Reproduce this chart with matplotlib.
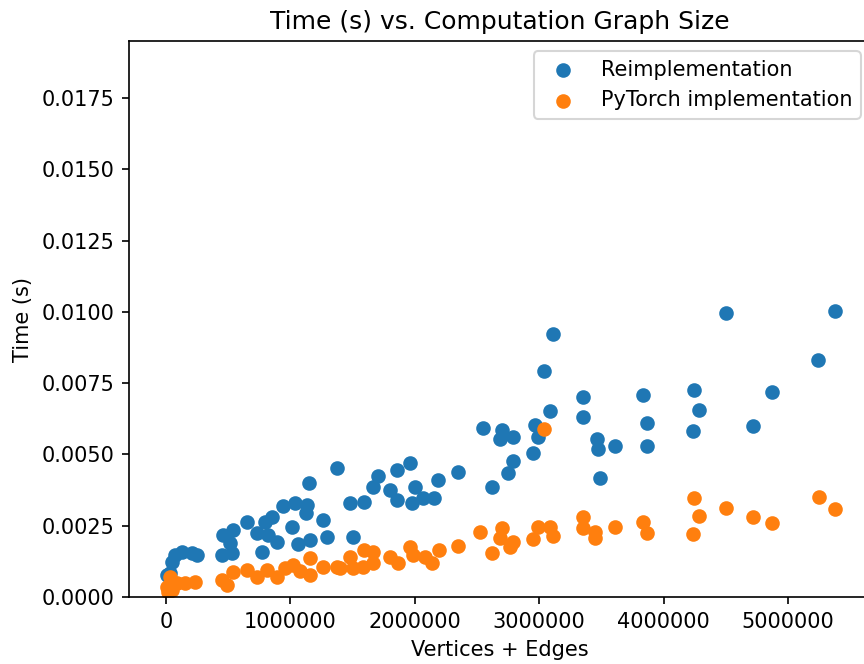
"""
Tempo (s) vs. tamanho do grafo de computação: reimplementação x PyTorch.
Valores lidos da figura de referência.
"""

import matplotlib
matplotlib.use("Agg")
import matplotlib.pyplot as plt

# reimplementação (azul)
reimpl_x = [
    0.008e6, 0.032e6, 0.048e6, 0.072e6, 0.129e6, 0.209e6, 0.249e6,
    0.450e6, 0.458e6, 0.514e6, 0.531e6, 0.539e6, 0.651e6, 0.732e6, 0.772e6,
    0.796e6, 0.820e6, 0.852e6, 0.892e6, 0.941e6, 1.013e6, 1.037e6, 1.061e6,
    1.125e6, 1.133e6, 1.150e6, 1.158e6, 1.262e6, 1.294e6, 1.375e6, 1.479e6,
    1.503e6, 1.592e6, 1.664e6, 1.704e6, 1.801e6, 1.857e6, 1.857e6, 1.961e6,
    1.977e6, 2.002e6, 2.066e6, 2.154e6, 2.186e6, 2.347e6, 2.548e6, 2.621e6,
    2.685e6, 2.701e6, 2.749e6, 2.789e6, 2.789e6, 2.950e6, 2.966e6, 2.990e6,
    3.039e6, 3.087e6, 3.111e6, 3.352e6, 3.352e6, 3.465e6, 3.473e6, 3.489e6,
    3.609e6, 3.834e6, 3.867e6, 3.867e6, 4.236e6, 4.244e6, 4.285e6, 4.502e6,
    4.719e6, 4.871e6, 5.241e6, 5.378e6,
]
reimpl_t = [
    0.00077, 0.00084, 0.00123, 0.00147, 0.00158, 0.00154, 0.00147,
    0.00147, 0.00217, 0.00189, 0.00154, 0.00235, 0.00263, 0.00224, 0.00158,
    0.00263, 0.00217, 0.00280, 0.00193, 0.00319, 0.00245, 0.00330, 0.00186,
    0.00295, 0.00323, 0.00400, 0.00200, 0.00270, 0.00210, 0.00452, 0.00330,
    0.00210, 0.00333, 0.00386, 0.00424, 0.00375, 0.00340, 0.00445, 0.00470,
    0.00330, 0.00386, 0.00347, 0.00347, 0.00410, 0.00438, 0.00593, 0.00386,
    0.00554, 0.00585, 0.00435, 0.00561, 0.00477, 0.00505, 0.00603, 0.00561,
    0.00792, 0.00652, 0.00922, 0.00701, 0.00631, 0.00554, 0.00519, 0.00417,
    0.00529, 0.00708, 0.00610, 0.00529, 0.00582, 0.00726, 0.00656, 0.00996,
    0.00600, 0.00719, 0.00831, 0.01003,
]

# implementação PyTorch (laranja)
torch_x = [
    0.008e6, 0.016e6, 0.032e6, 0.048e6, 0.088e6, 0.153e6, 0.233e6,
    0.450e6, 0.490e6, 0.539e6, 0.651e6, 0.732e6, 0.812e6, 0.892e6, 0.957e6,
    1.021e6, 1.077e6, 1.158e6, 1.158e6, 1.262e6, 1.375e6, 1.399e6, 1.479e6,
    1.503e6, 1.584e6, 1.592e6, 1.664e6, 1.664e6, 1.801e6, 1.865e6, 1.961e6,
    1.986e6, 2.082e6, 2.138e6, 2.195e6, 2.347e6, 2.524e6, 2.621e6, 2.685e6,
    2.701e6, 2.765e6, 2.789e6, 2.950e6, 2.990e6, 3.039e6, 3.087e6, 3.111e6,
    3.352e6, 3.352e6, 3.449e6, 3.449e6, 3.609e6, 3.834e6, 3.867e6, 4.236e6,
    4.244e6, 4.285e6, 4.502e6, 4.719e6, 4.871e6, 5.249e6, 5.378e6,
]
torch_t = [
    0.00035, 0.00018, 0.00070, 0.00025, 0.00049, 0.00049, 0.00053,
    0.00060, 0.00042, 0.00088, 0.00095, 0.00070, 0.00095, 0.00070, 0.00102,
    0.00112, 0.00091, 0.00137, 0.00077, 0.00105, 0.00105, 0.00102, 0.00140,
    0.00102, 0.00105, 0.00165, 0.00158, 0.00119, 0.00140, 0.00119, 0.00175,
    0.00147, 0.00140, 0.00119, 0.00165, 0.00179, 0.00228, 0.00154, 0.00207,
    0.00242, 0.00175, 0.00193, 0.00203, 0.00245, 0.00589, 0.00245, 0.00214,
    0.00280, 0.00242, 0.00228, 0.00207, 0.00245, 0.00263, 0.00224, 0.00221,
    0.00347, 0.00284, 0.00312, 0.00280, 0.00259, 0.00351, 0.00309,
]

fig = plt.figure(figsize=(5.76, 4.42667), dpi=150)
ax = fig.add_axes([0.1493, 0.1009, 0.8588, 0.8373])

ax.scatter(reimpl_x, reimpl_t, label="Reimplementation")
ax.scatter(torch_x, torch_t, label="PyTorch implementation")

ax.set_xlim(-0.297e6, 5.667e6)
ax.set_ylim(0, 0.0195)
ax.ticklabel_format(style="plain", axis="x")

ax.set_title("Time (s) vs. Computation Graph Size")
ax.set_xlabel("Vertices + Edges")
ax.set_ylabel("Time (s)")
ax.legend(loc="upper right")

fig.savefig("out.png", dpi=150)
